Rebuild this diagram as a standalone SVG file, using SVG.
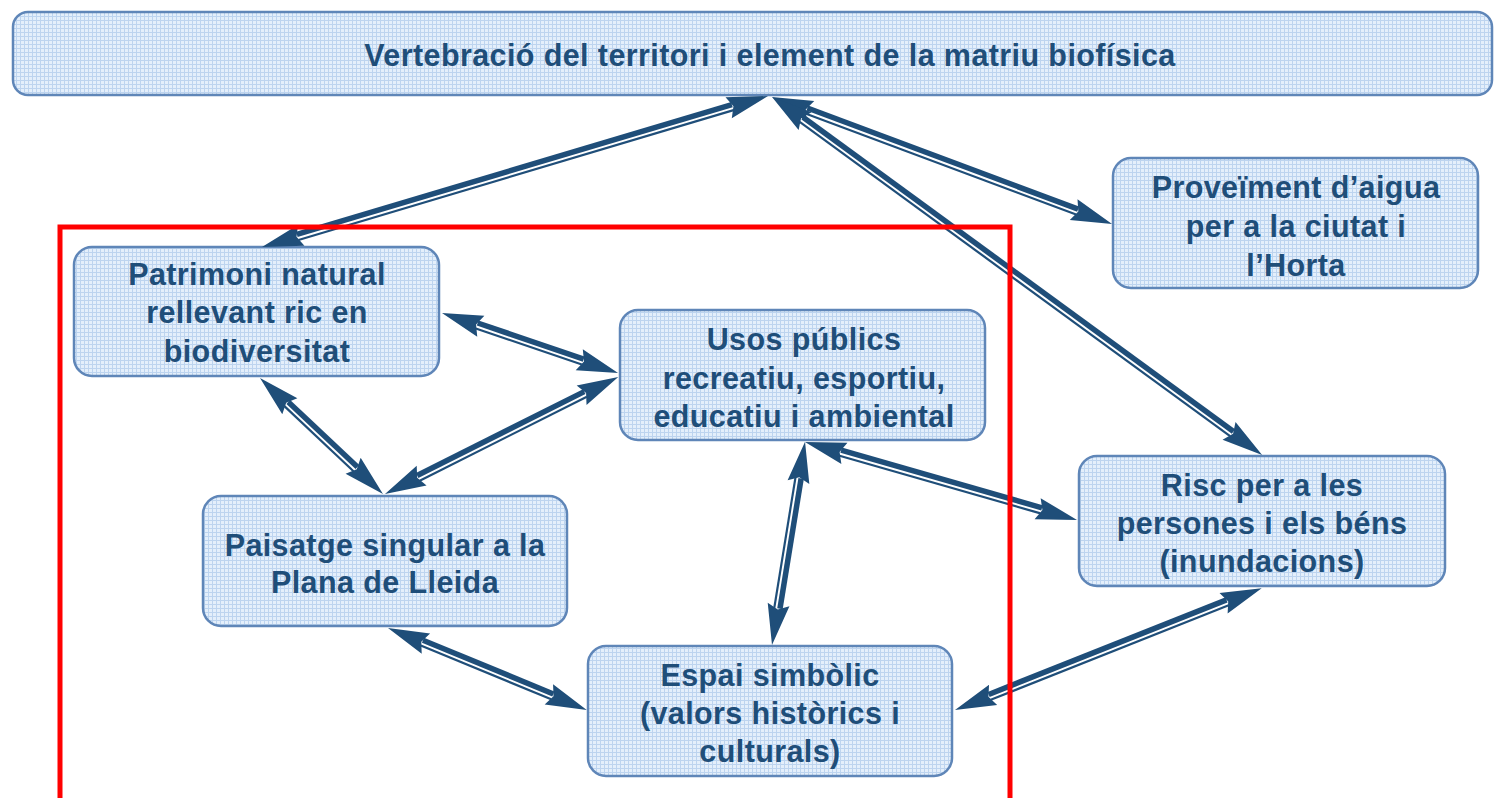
<svg xmlns="http://www.w3.org/2000/svg" xmlns:xlink="http://www.w3.org/1999/xlink" width="1506" height="798" viewBox="0 0 1506 798">
<style>
.box{fill:url(#grid);stroke:#5F86B8;stroke-width:2.5}
.t{font-family:"Liberation Sans",Arial,sans-serif;font-weight:bold;font-size:30.5px;letter-spacing:0.4px;fill:#1F4E79;text-anchor:middle}
.k{fill:#1F4E79}
</style>
<defs>
<pattern id="grid" width="4" height="4" patternUnits="userSpaceOnUse">
<rect width="4" height="4" fill="#E4EFFB"/>
<path d="M0 0.5H4M0.5 0V4" stroke="#BDD4EF" stroke-width="1"/>
</pattern>
<polygon id="hd" class="k" points="0,0 41,-11 36,0 41,11"/>
</defs>
<rect width="1506" height="798" fill="#FFFFFF"/>

<g id="n-top">
<rect class="box" x="13" y="12" width="1479" height="83" rx="15"/>
<text class="t" x="770" y="66">Vertebració del territori i element de la matriu biofísica</text>
</g>
<g id="n-proveiment">
<rect class="box" x="1113" y="158" width="365" height="130" rx="18"/>
<text class="t" x="1296" y="198">Proveïment d’aigua</text>
<text class="t" x="1296" y="237">per a la ciutat i</text>
<text class="t" x="1296" y="276">l’Horta</text>
</g>
<g id="n-patrimoni">
<rect class="box" x="74" y="247" width="365" height="129" rx="18"/>
<text class="t" x="257" y="285">Patrimoni natural</text>
<text class="t" x="257" y="323">rellevant ric en</text>
<text class="t" x="257" y="362">biodiversitat</text>
</g>
<g id="n-usos">
<rect class="box" x="620" y="310" width="365" height="130" rx="18"/>
<text class="t" x="804" y="350">Usos públics</text>
<text class="t" x="804" y="389">recreatiu, esportiu,</text>
<text class="t" x="804" y="427">educatiu i ambiental</text>
</g>
<g id="n-paisatge">
<rect class="box" x="203" y="496" width="364" height="130" rx="18"/>
<text class="t" x="385" y="556">Paisatge singular a la</text>
<text class="t" x="385" y="593">Plana de Lleida</text>
</g>
<g id="n-risc">
<rect class="box" x="1079" y="456" width="366" height="130" rx="18"/>
<text class="t" x="1262" y="496">Risc per a les</text>
<text class="t" x="1262" y="534">persones i els béns</text>
<text class="t" x="1262" y="572">(inundacions)</text>
</g>
<g id="n-espai">
<rect class="box" x="588" y="646" width="364" height="130" rx="18"/>
<text class="t" x="770" y="686">Espai simbòlic</text>
<text class="t" x="770" y="724">(valors històrics i</text>
<text class="t" x="770" y="762">culturals)</text>
</g>

<g id="connectors">
<g transform="translate(262,247) rotate(-16.62)">
<use xlink:href="#hd"/><use xlink:href="#hd" transform="translate(528,0) scale(-1,1)"/>
<rect class="k" x="37" y="-4.8" width="454" height="5.5"/><rect class="k" x="37" y="2.6" width="454" height="2.2"/>
</g>
<g transform="translate(772,97) rotate(20.48)">
<use xlink:href="#hd"/><use xlink:href="#hd" transform="translate(363,0) scale(-1,1)"/>
<rect class="k" x="37" y="-4.8" width="289" height="5.5"/><rect class="k" x="37" y="2.6" width="289" height="2.2"/>
</g>
<g transform="translate(772,97) rotate(36.15)">
<use xlink:href="#hd"/><use xlink:href="#hd" transform="translate(607,0) scale(-1,1)"/>
<rect class="k" x="37" y="-4.8" width="533" height="5.5"/><rect class="k" x="37" y="2.6" width="533" height="2.2"/>
</g>
<g transform="translate(442,313) rotate(18.82)">
<use xlink:href="#hd"/><use xlink:href="#hd" transform="translate(186,0) scale(-1,1)"/>
<rect class="k" x="37" y="-4.8" width="112" height="5.5"/><rect class="k" x="37" y="2.6" width="112" height="2.2"/>
</g>
<g transform="translate(260,378) rotate(43.32)">
<use xlink:href="#hd"/><use xlink:href="#hd" transform="translate(169,0) scale(-1,1)"/>
<rect class="k" x="37" y="-4.8" width="95" height="5.5"/><rect class="k" x="37" y="2.6" width="95" height="2.2"/>
</g>
<g transform="translate(385,494) rotate(-26.66)">
<use xlink:href="#hd"/><use xlink:href="#hd" transform="translate(261,0) scale(-1,1)"/>
<rect class="k" x="37" y="-4.8" width="187" height="5.5"/><rect class="k" x="37" y="2.6" width="187" height="2.2"/>
</g>
<g transform="translate(805,442) rotate(16.0)">
<use xlink:href="#hd"/><use xlink:href="#hd" transform="translate(283,0) scale(-1,1)"/>
<rect class="k" x="37" y="-4.8" width="209" height="5.5"/><rect class="k" x="37" y="2.6" width="209" height="2.2"/>
</g>
<g transform="translate(772,645) rotate(-80.77)">
<use xlink:href="#hd"/><use xlink:href="#hd" transform="translate(206,0) scale(-1,1)"/>
<rect class="k" x="37" y="-0.7" width="132" height="5.5"/><rect class="k" x="37" y="-4.8" width="132" height="2.2"/>
</g>
<g transform="translate(388,628) rotate(22.4)">
<use xlink:href="#hd"/><use xlink:href="#hd" transform="translate(215,0) scale(-1,1)"/>
<rect class="k" x="37" y="-4.8" width="141" height="5.5"/><rect class="k" x="37" y="2.6" width="141" height="2.2"/>
</g>
<g transform="translate(955,710) rotate(-21.67)">
<use xlink:href="#hd"/><use xlink:href="#hd" transform="translate(330,0) scale(-1,1)"/>
<rect class="k" x="37" y="-4.8" width="256" height="5.5"/><rect class="k" x="37" y="2.6" width="256" height="2.2"/>
</g>
</g>

<rect id="highlight" x="60" y="227" width="950" height="600" fill="none" stroke="#FF0000" stroke-width="5"/>
</svg>
